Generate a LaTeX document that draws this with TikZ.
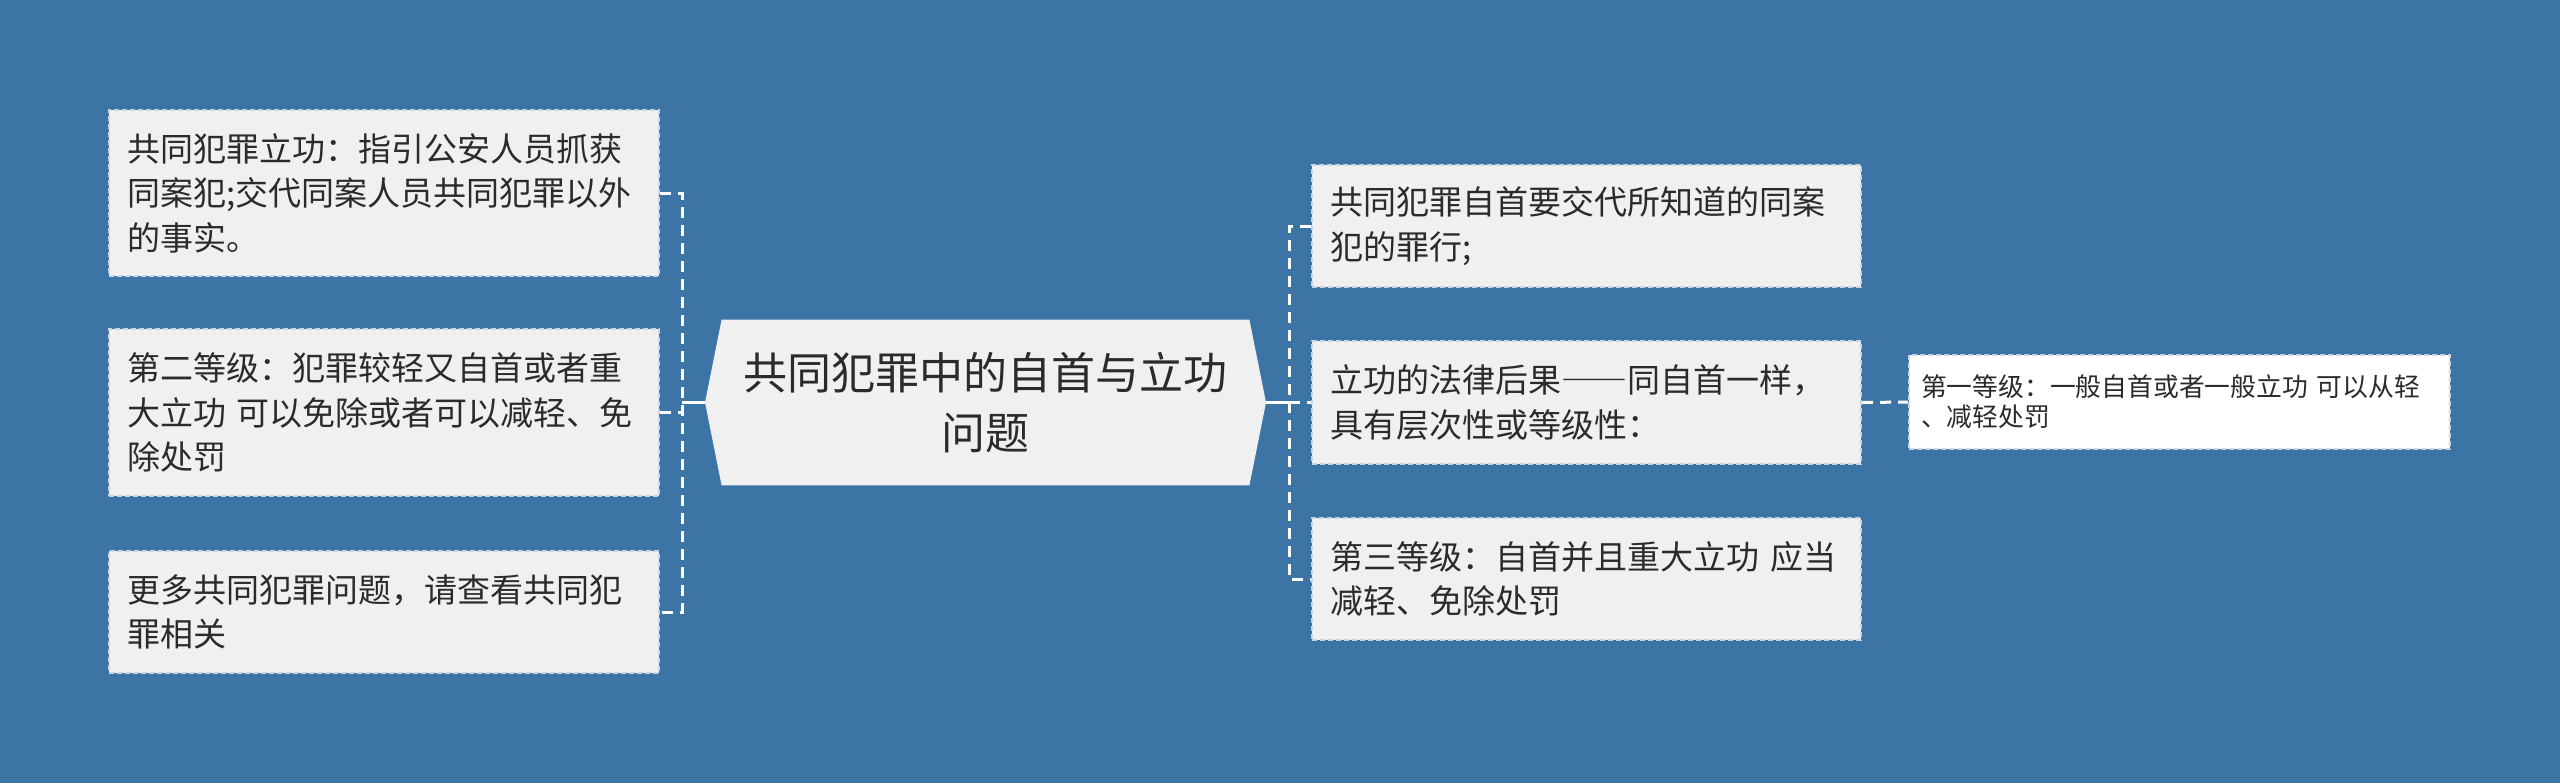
\documentclass[tikz,border=0pt]{standalone}
\usepackage{fontspec}
\setmainfont{Noto Sans CJK SC}
\definecolor{bgblue}{HTML}{3D74A6}
\definecolor{boxfill}{HTML}{F0F0F0}
\definecolor{boxline}{HTML}{C9D5E2}
\definecolor{txt}{HTML}{2B2B2B}
\tikzset{
  topic/.style={rectangle, fill=boxfill, draw=boxline, line width=1pt,
    dash pattern=on 2.5pt off 1.5pt, text=txt, align=left, anchor=center,
    inner xsep=9pt, inner ysep=0pt,
    font=\fontsize{16.5pt}{22.25pt}\selectfont},
  leaf/.style={topic, fill=white, inner xsep=6pt,
    font=\fontsize{12.9pt}{15pt}\selectfont},
  dl/.style={draw=white, line width=1.5pt, dash pattern=on 5.5pt off 3.5pt},
  sl/.style={draw=white, line width=1.5pt},
}
\begin{document}
\begin{tikzpicture}[x=0.5pt,y=-0.5pt]
\fill[bgblue] (0,0) rectangle (2560,783);
\useasboundingbox (0,0) rectangle (2560,783);

% left topics
\node[topic, text width=257pt, minimum height=83pt] (L1) at (384,193)
  {共同犯罪立功：指引公安人员抓获\\同案犯;交代同案人员共同犯罪以外\\的事实。};
\node[topic, text width=257pt, minimum height=83.5pt] (L2) at (384,412.5)
  {第二等级：犯罪较轻又自首或者重\\大立功 可以免除或者可以减轻、免\\除处罚};
\node[topic, text width=257pt, minimum height=61pt] (L3) at (384,612)
  {更多共同犯罪问题，请查看共同犯\\罪相关};

% central hexagon
\node[inner sep=0pt, minimum width=263.5pt, minimum height=82.5pt] (C) at (985.5,402.5) {};
\coordinate (CW) at (705,402.5);
\coordinate (CE) at (1266,402.5);
\fill[boxfill] (C.north west) -- (C.north east) -- (CE) -- (C.south east)
  -- (C.south west) -- (CW) -- cycle;
\node[text=txt, align=center, inner sep=0pt,
  font=\fontsize{22pt}{30pt}\selectfont] (CT) at (C.center)
  {共同犯罪中的自首与立功\\问题};

% right topics
\node[topic, text width=256.5pt, minimum height=61pt] (R1) at (1586.5,226)
  {共同犯罪自首要交代所知道的同案\\犯的罪行;};
\node[topic, text width=256.5pt, minimum height=61.5pt] (R2) at (1586.5,402.5)
  {立功的法律后果{\addfontfeature{RawFeature=+fwid}——}同自首一样，\\具有层次性或等级性：};
\node[topic, text width=256.5pt, minimum height=61pt] (R3) at (1586.5,579)
  {第三等级：自首并且重大立功 应当\\减轻、免除处罚};

% leaf
\node[leaf, text width=258.5pt, minimum height=47pt] (S1) at (2179.5,402)
  {第一等级：一般自首或者一般立功 可以从轻\\、减轻处罚};

% connectors left
\coordinate (JL) at (682,402.5);
\draw[dl] (L1.east) -| (JL) |- (L3.east);
\draw[dl] (L2.east) -- (L2.east -| JL);
\draw[sl] (CW) -- (JL);

% connectors right
\coordinate (JR) at (1289,402.5);
\draw[dl] (R1.west) -| (JR) |- (R3.west);
\draw[sl] (CE) -- (JR);
\draw[dl] (JR) -- (R2.west);
\draw[dl] (R2.east) -- (S1.west);
\end{tikzpicture}
\end{document}
